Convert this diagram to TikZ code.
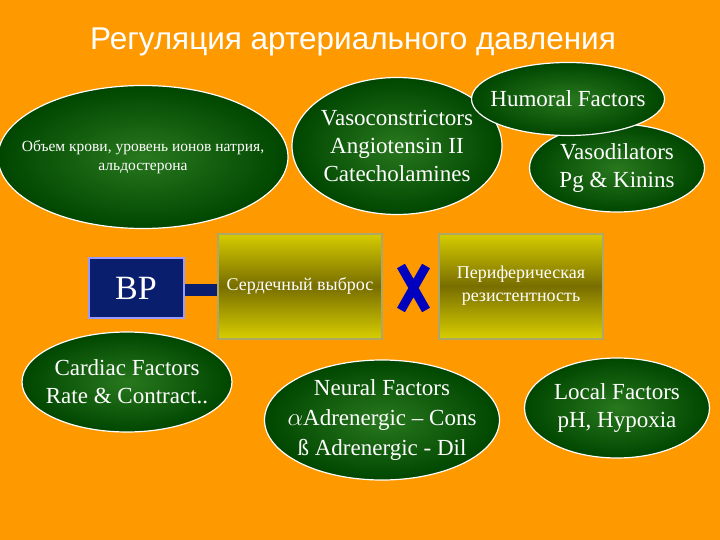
\documentclass[tikz,border=0pt]{standalone}
\usepackage{fontspec}
\setmainfont{Liberation Serif}
\newfontfamily\titlefont{Liberation Sans}
\usetikzlibrary{shapes.geometric}
\definecolor{bg}{RGB}{255,153,0}
\definecolor{dgreen}{RGB}{0,70,0}
\definecolor{lgreen}{RGB}{40,120,30}
\definecolor{ybox}{RGB}{215,205,0}
\definecolor{ydark}{RGB}{120,110,0}
\definecolor{bpblue}{RGB}{10,30,110}
\begin{document}
\begin{tikzpicture}[x=1pt,y=-1pt,
  ell/.style={ellipse,draw=white,line width=1.2pt,inner color=lgreen,outer color=dgreen,inner sep=0pt},
  etx/.style={text=white,align=center,font=\fontsize{23}{28}\selectfont},
  ybx/.style={draw=ydark!60!white,line width=2pt,top color=ybox,bottom color=ybox,middle color=ydark,minimum width=164pt,minimum height=105pt,text=white,align=center,font=\fontsize{18}{23}\selectfont}]
\fill[bg] (0,0) rectangle (720,540);
\useasboundingbox (0,0) rectangle (720,540);
\node[font=\titlefont\fontsize{31.5}{36}\selectfont,text=white] (title) at (353,42) {Регуляция артериального давления};
\node[ell,minimum width=290pt,minimum height=143pt] (vol) at (143,157) {};
\node[etx,font=\fontsize{15.5}{19}\selectfont] (volt) at (vol.center) {Объем крови, уровень ионов натрия,\\альдостерона};
\node[ell,minimum width=210pt,minimum height=137pt] (vc) at (397,146) {};
\node[etx] (vct) at (vc.center) {Vasoconstrictors\\Angiotensin II\\Catecholamines};
\node[ell,minimum width=175pt,minimum height=88pt] (vd) at (617,168) {};
\node[etx] (vdt) at (vd.center) {Vasodilators\\Pg \& Kinins};
\node[ell,minimum width=193pt,minimum height=73pt] (hum) at (568,99) {};
\node[etx] (humt) at (hum.center) {Humoral Factors};
\node[ybx] (co) at (300,286) {Сердечный выброс};
\node[ybx] (pr) at (521,286) {Периферическая\\резистентность};
\node[draw=blue!40!white,line width=2pt,fill=bpblue,minimum width=95pt,minimum height=60pt,text=white,font=\fontsize{34}{38}\selectfont] (bp) at (136,288) {BP};
\fill[bpblue] (bp.east|-0,284) rectangle (co.west|-0,296);
\draw[line width=9pt,blue!75!black,line cap=butt] (401,266) -- (426,310) (426,266) -- (401,310);
\node[ell,minimum width=210pt,minimum height=100pt] (cf) at (127,382) {};
\node[etx] (cft) at (cf.center) {Cardiac Factors\\Rate \& Contract..};
\node[ell,minimum width=235pt,minimum height=120pt] (nf) at (382,420) {};
\node[etx,font=\fontsize{23}{30}\selectfont] (nft) at (nf.center) {Neural Factors\\$\alpha$Adrenergic – Cons\\ß Adrenergic - Dil};
\node[ell,minimum width=185pt,minimum height=100pt] (lf) at (617,408) {};
\node[etx] (lft) at (lf.center) {Local Factors\\pH, Hypoxia};
\end{tikzpicture}
\end{document}
